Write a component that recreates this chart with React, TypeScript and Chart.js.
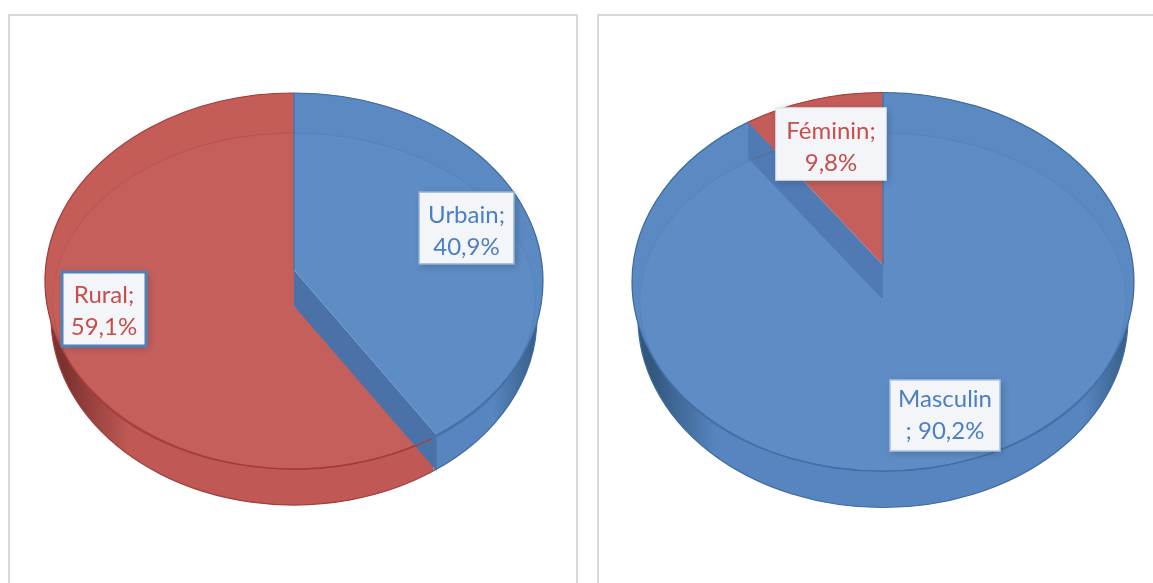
import React, { useEffect, useRef } from "react";
import { Chart, registerables } from "chart.js";

Chart.register(...registerables);

const residenceCategories = ["Urbain", "Rural"];
const residenceValues = [40.9, 59.1];
const residenceLabelLines = [["Urbain;", "40,9%"], ["Rural;", "59,1%"]];

const genderCategories = ["Masculin", "Féminin"];
const genderValues = [90.2, 9.8];
const genderLabelLines = [["Masculin", "; 90,2%"], ["Féminin;", "9,8%"]];

const BLUE = { face: "#5b8ac3", line: "#3f6a9f", inner: "#446fa6", text: "#4a7fc6", wallMid: "#5785c0", wallEdge: "#33587f" };
const RED = { face: "#c45c58", line: "#a23f3c", inner: "#a23d3a", text: "#c64f4c", wallMid: "#c05955", wallEdge: "#7c3230" };

const deg = Math.PI / 180;
const FONT = '24px "Lato"';

type Box = { x: number; y: number; w: number; h: number; border: string; bw: number; textDy: number };
type Look = {
  palettes: (typeof BLUE)[];
  flat: number;
  depth: number;
  lowerInset: number;
  apexShift: number[];
  cutNudge: number;
  band: string;
  innerShiftY: number;
  innerRx: number;
  innerRy: number;
  lines: string[][];
  boxes: Box[];
};

const plugin3d = {
  id: "pie3d",
  beforeDatasetsDraw(chart: any, _a: any, o: any) {
    const look: Look = o.look;
    const ctx: CanvasRenderingContext2D = chart.ctx;
    const els = chart.getDatasetMeta(0).data;
    const x = els[0].x;
    const cy = els[0].y;
    const R = els[0].outerRadius;
    const ry = R * look.flat;
    const cut = els[0].endAngle + look.cutNudge;
    const ranges = [
      [els[0].startAngle, cut],
      [cut, els[1].endAngle],
    ];
    const at = (a: number, off: number, r: number) => [x + r * Math.cos(a), cy + off + ry * Math.sin(a)];
    const d = look.depth;
    const lowR = R - look.lowerInset;

    ctx.save();
    // side wall
    ranges.forEach(([s, e], i) => {
      const p = look.palettes[i];
      const g = ctx.createLinearGradient(x - R, 0, x + R, 0);
      g.addColorStop(0, p.wallEdge);
      g.addColorStop(0.04, p.wallEdge);
      g.addColorStop(0.17, p.wallMid);
      g.addColorStop(0.9, p.wallMid);
      g.addColorStop(1, p.wallEdge);
      ctx.beginPath();
      ctx.ellipse(x, cy, R, ry, 0, s, e);
      ctx.ellipse(x, cy + d, lowR, ry, 0, e, s, true);
      ctx.closePath();
      ctx.fillStyle = g;
      ctx.fill();
      ctx.beginPath();
      ctx.ellipse(x, cy + d, lowR, ry, 0, s, e);
      ctx.strokeStyle = p.line;
      ctx.lineWidth = 1.2;
      ctx.stroke();
    });

    const order = [0, 1].sort((a, b) => look.apexShift[b] - look.apexShift[a]);
    const raised = order[1];
    const lowered = order[0];
    const face = (i: number) => {
      const [s, e] = ranges[i];
      const p = look.palettes[i];
      ctx.beginPath();
      ctx.moveTo(x, cy + look.apexShift[i]);
      ctx.ellipse(x, cy, R, ry, 0, s, e);
      ctx.closePath();
      ctx.fillStyle = p.face;
      ctx.fill();
      ctx.save();
      ctx.clip();
      ctx.beginPath();
      ctx.ellipse(x, cy + look.innerShiftY, look.innerRx, look.innerRy, 0, 0, Math.PI * 2);
      ctx.fillStyle = "rgba(255,255,255,0.025)";
      ctx.fill();
      ctx.restore();
      ctx.beginPath();
      ctx.ellipse(x, cy, R, ry, 0, s, e);
      ctx.strokeStyle = p.line;
      ctx.lineWidth = 1.2;
      ctx.stroke();
    };

    face(lowered);

    const D = at(cut, 0, R);
    const C = at(cut, d, R);
    ctx.beginPath();
    ctx.moveTo(x, cy + look.apexShift[raised]);
    ctx.lineTo(x, cy + look.apexShift[lowered]);
    ctx.lineTo(C[0], C[1]);
    ctx.lineTo(D[0], D[1]);
    ctx.closePath();
    ctx.fillStyle = look.band;
    ctx.fill();

    face(raised);

    // seam on the vertical edge
    ctx.beginPath();
    ctx.moveTo(x, cy - ry);
    ctx.lineTo(x, cy + look.apexShift[raised]);
    ctx.strokeStyle = "#3f72ab";
    ctx.lineWidth = 1.2;
    ctx.stroke();

    // inner rim line
    const top = cy + look.innerShiftY - look.innerRy;
    const bottom = cy + look.innerShiftY + look.innerRy;
    ranges.forEach(([s, e], i) => {
      const p = look.palettes[i];
      const g = ctx.createLinearGradient(0, top, 0, bottom);
      g.addColorStop(0, p.inner + "44");
      g.addColorStop(0.5, p.inner + "22");
      g.addColorStop(0.8, p.inner + "bb");
      g.addColorStop(1, p.inner + "ff");
      ctx.beginPath();
      ctx.ellipse(x, cy + look.innerShiftY, look.innerRx, look.innerRy, 0, s, e);
      ctx.strokeStyle = g;
      ctx.lineWidth = 1.4;
      ctx.stroke();
    });

    // data labels
    look.boxes.forEach((b, i) => {
      const p = look.palettes[i];
      ctx.save();
      ctx.shadowColor = "rgba(40,50,70,0.35)";
      ctx.shadowBlur = 8;
      ctx.shadowOffsetX = 2;
      ctx.shadowOffsetY = 2;
      ctx.fillStyle = "#f3f5f9";
      ctx.fillRect(b.x, b.y, b.w, b.h);
      ctx.restore();
      ctx.strokeStyle = b.border;
      ctx.lineWidth = b.bw;
      ctx.strokeRect(b.x, b.y, b.w, b.h);
      ctx.fillStyle = p.text;
      ctx.font = FONT;
      ctx.textAlign = "center";
      ctx.textBaseline = "middle";
      look.lines[i].forEach((t, j) => {
        ctx.fillText(t, b.x + b.w / 2, b.y + b.h / 2 + b.textDy + (j - 0.5) * 32);
      });
    });
    ctx.restore();
    return false;
  },
};

const residenceLook: Look = {
  palettes: [BLUE, RED],
  flat: 0.755,
  depth: 36,
  lowerInset: 6,
  apexShift: [-11, 25],
  cutNudge: -2.2 * deg,
  band: "#4a72a8",
  innerShiftY: 20,
  innerRx: 241,
  innerRy: 168,
  lines: residenceLabelLines,
  boxes: [
    { x: 409, y: 176, w: 95, h: 72, border: "#93b3dd", bw: 1.5, textDy: 3 },
    { x: 52, y: 256, w: 84, h: 74, border: "#4f81bd", bw: 3, textDy: 2 },
  ],
};

const genderLook: Look = {
  palettes: [BLUE, RED],
  flat: 0.755,
  depth: 36,
  lowerInset: 6,
  apexShift: [18, -17],
  cutNudge: 2.8 * deg,
  band: "#4f7ab4",
  innerShiftY: 20,
  innerRx: 243,
  innerRy: 169,
  lines: genderLabelLines,
  boxes: [
    { x: 291, y: 364, w: 110, h: 71, border: "#a9c3e4", bw: 1.5, textDy: 0 },
    { x: 177, y: 92, w: 110, h: 72, border: "#e6edf6", bw: 1.5, textDy: 3 },
  ],
};

function Pie({ labels, values, look, padding, style, w, h }: any) {
  const ref = useRef<HTMLCanvasElement>(null);
  useEffect(() => {
    const chart = new Chart(ref.current as HTMLCanvasElement, {
      type: "pie",
      data: {
        labels,
        datasets: [
          {
            data: values,
            backgroundColor: look.palettes.map((p: any) => p.face),
            borderWidth: 0,
          },
        ],
      },
      options: {
        animation: false,
        responsive: false,
        layout: { padding },
        plugins: {
          legend: { display: false },
          tooltip: { enabled: false },
          pie3d: { look },
        } as any,
      },
      plugins: [plugin3d as any],
    });
    return () => chart.destroy();
  }, []);
  return <canvas ref={ref} width={w} height={h} style={{ position: "absolute", display: "block", ...style }} />;
}

const panel = (left: number, width: number): React.CSSProperties => ({
  position: "absolute",
  left,
  top: 14,
  width,
  height: 600,
  border: "2px solid #d9d9d9",
  boxSizing: "border-box",
  background: "#fff",
});

export default function App() {
  return (
    <div style={{ position: "fixed", inset: 0, overflow: "hidden", background: "#fff" }}>
      <div style={panel(8, 570)} />
      <div style={panel(597, 600)} />
      <Pie
        labels={residenceCategories}
        values={residenceValues}
        look={residenceLook}
        w={566}
        h={567}
        style={{ left: 10, top: 16 }}
        padding={{ left: 35, right: 33, top: 16, bottom: 53 }}
      />
      <Pie
        labels={genderCategories}
        values={genderValues}
        look={genderLook}
        w={554}
        h={567}
        style={{ left: 599, top: 16 }}
        padding={{ left: 33, right: 19, top: 15, bottom: 50 }}
      />
    </div>
  );
}
